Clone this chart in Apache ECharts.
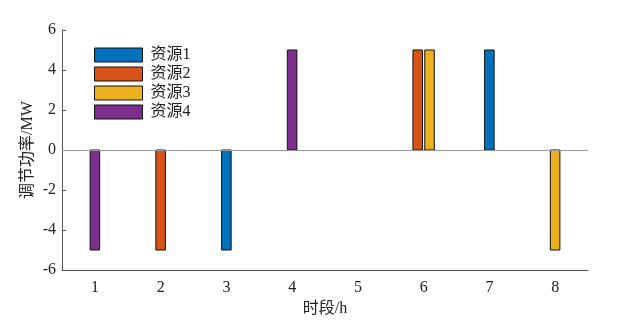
<!DOCTYPE html>
<html><head><meta charset="utf-8">
<script src="https://cdn.jsdelivr.net/npm/echarts@6/dist/echarts.min.js"></script>
<style>html,body{margin:0;padding:0;background:#fff}#c{width:621px;height:331px}</style>
</head><body><div id="c"></div>
<script>
const categories = ['1','2','3','4','5','6','7','8'];
const seriesNames = ['资源1','资源2','资源3','资源4'];
const colors = ['#0072BD','#D95319','#EDB120','#7E2F8E'];
const res1 = [0,0,-5,0,0,0,5,0];
const res2 = [0,-5,0,0,0,5,0,0];
const res3 = [0,0,0,0,0,5,0,-5];
const res4 = [-5,0,0,5,0,0,0,0];
const yTicks = {min:-6,max:6,interval:2};
const allData = [res1,res2,res3,res4];

const FONT = '"Liberation Serif","Noto Sans CJK SC",serif';
const chart = echarts.init(document.getElementById('c'));

function makeRender(si){
  return function(params, api){
    const ci = api.value(0), v = api.value(1);
    if (!v) return null;
    const active = [];
    allData.forEach((arr,k)=>{ if (arr[ci]) active.push(k); });
    const n = active.length, pos = active.indexOf(si);
    const band = api.size([1,0])[0];
    const off = (pos - (n-1)/2) * 0.18 * band;
    const w = 0.145 * band;
    const top = api.coord([ci, v]);
    const base = api.coord([ci, 0]);
    const x = top[0] + off - w/2;
    const y = Math.min(top[1], base[1]);
    const h = Math.abs(top[1]-base[1]);
    return {type:'rect', shape:{x:x,y:y,width:w,height:h},
      style:{fill:colors[si], stroke:'#111', lineWidth:1}};
  };
}

const series = allData.map((arr,si)=>({
  type:'custom', name:seriesNames[si],
  itemStyle:{color:colors[si]},
  renderItem: makeRender(si),
  data: arr.map((v,i)=>[i,v]),
  encode:{x:0,y:1}
}));
series[0].markLine = {silent:true, symbol:'none', label:{show:false},
  lineStyle:{color:'#999',width:1,type:'solid'}, data:[{yAxis:0}]};

chart.setOption({
  animation:false,
  grid:{left:62,right:33,top:30,bottom:61},
  legend:{orient:'vertical', left:94, top:47, padding:0, itemGap:3,
    itemWidth:48, itemHeight:14,
    textStyle:{fontFamily:FONT,fontSize:16,color:'#222',padding:[0,0,0,3]},
    data: seriesNames.map((n,i)=>({name:n, icon:'rect',
      itemStyle:{color:colors[i],borderColor:'#111',borderWidth:1}}))},
  xAxis:{type:'category', data:categories, boundaryGap:true,
    name:'时段/h', nameLocation:'middle', nameGap:25,
    nameTextStyle:{fontFamily:FONT,fontSize:16,color:'#222'},
    axisLine:{onZero:false,lineStyle:{color:'#555'}},
    axisTick:{inside:true,alignWithLabel:true,length:4,lineStyle:{color:'#555'}},
    axisLabel:{fontFamily:FONT,fontSize:16,color:'#222',margin:10},
    splitLine:{show:false}},
  yAxis:{type:'value', min:yTicks.min, max:yTicks.max, interval:yTicks.interval,
    name:'调节功率/MW', nameLocation:'middle', nameGap:26, nameMoveOverlap:false,
    nameTextStyle:{fontFamily:FONT,fontSize:16,color:'#222'},
    axisLine:{show:true,lineStyle:{color:'#555'}},
    axisTick:{show:true,inside:true,length:4,lineStyle:{color:'#555'}},
    axisLabel:{fontFamily:FONT,fontSize:16,color:'#222',margin:6},
    splitLine:{show:false}},
  series:series
});
</script></body></html>
